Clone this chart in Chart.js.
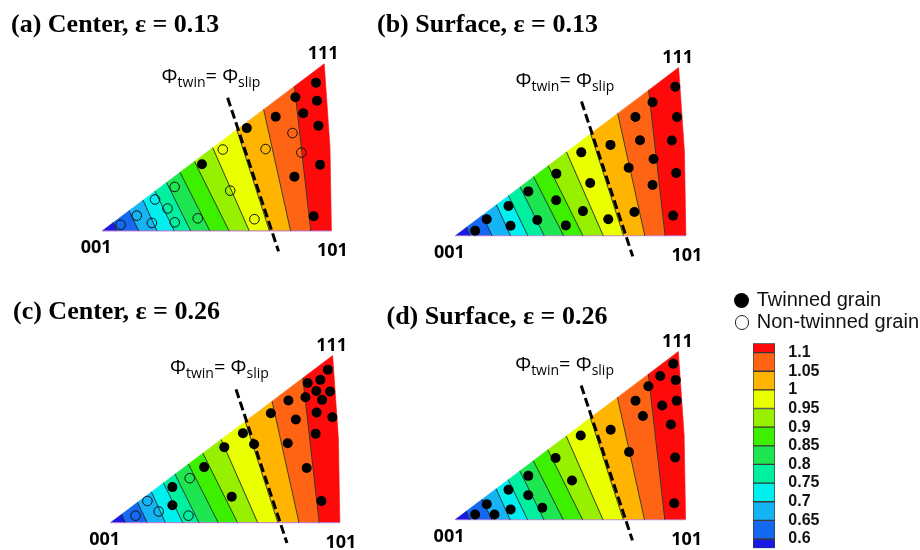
<!DOCTYPE html>
<html lang="en">
<head>
<meta charset="UTF-8">
<title>Twin / slip ratio inverse pole figures</title>
<script src="https://cdn.jsdelivr.net/npm/chart.js"></script>
<style>
  body { margin: 0; width: 920px; height: 550px; background: #fff; position: relative; overflow: hidden; }
  canvas { position: absolute; }
  .title { position: absolute; z-index: 2; font-family: "Liberation Serif", "Times New Roman", serif; font-weight: bold; font-size: 26px; line-height: 26px; white-space: nowrap; color: #000; }
  .key { position: absolute; z-index: 2; font-family: "Liberation Sans", Arial, sans-serif; font-size: 20px; line-height: 20px; white-space: nowrap; color: #111; }
  .dot { position: absolute; z-index: 2; border-radius: 50%; box-sizing: border-box; }
</style>
</head>
<body>
<script>
// triangle corners in projection units (001 at origin, 001-101 edge along x)
const v001 = [0, 0];
const v101 = [238.5, 0];
const v111 = [231, 175.5];
const arcMid = [237, 88];
const cornerLabels = ['001', '101', '111'];

// contour levels of phi_twin / phi_slip and where each iso-line meets
// the 001-111 edge (isoTopX) and the 001-101 edge (isoBottomX)
const levels = [0.6, 0.65, 0.7, 0.75, 0.8, 0.85, 0.9, 0.95, 1, 1.05, 1.1];
const isoTopX = [11.5, 28, 42.5, 55, 67, 81, 96, 115, 140, 168, 200];
const isoBottomX = [15, 38, 57, 75, 92, 112, 132, 153, 174, 196, 217];
const bandColors = ['#1a1ae6', '#1469f0', '#14b4f5', '#00f0f0', '#00f0a0', '#1ee650',
                    '#3cf000', '#96f000', '#eaff00', '#ffb400', '#ff6414', '#ff0a0a'];

// phi_twin = phi_slip boundary
const dashX = [130.5, 183.5];
const dashY = [140, -21.5];

const titles = ['(a) Center, \u03b5 = 0.13', '(b) Surface, \u03b5 = 0.13',
                '(c) Center, \u03b5 = 0.26', '(d) Surface, \u03b5 = 0.26'];

// grain orientations
const twinnedA = [[222.5,155.7],[201,140.5],[223.4,136.7],[180.5,120],[209.2,123.7],[225,110.5],
  [150.5,108],[103.8,70],[226.7,69.6],[200,57],[220,15.4]];
const untwinnedA = [[198,102.8],[207.2,82.3],[170,86],[125.5,85.5],[133.2,42.3],[158.4,12.3],
  [19.2,6.4],[36,16],[51.7,8.3],[55,33],[68,23.5],[75.4,46.2],[75.5,9],[99.4,13.2]];
const twinnedB = [[227.5,155.5],[204,139.3],[229.3,124],[186.3,124],[191,99.6],[224,99.3],
  [160.5,94.8],[130.3,87],[205,80],[179.3,71],[104.5,64.8],[139.5,55],[228.5,65.6],[204,53],
  [75.5,46.3],[104.3,37],[55,31],[185.2,24.7],[158.2,17.3],[132,25.7],[84.8,16.5],[114.3,10.8],
  [32.5,17.3],[57.1,10.5],[20.5,5.2],[225.3,21]];
const untwinnedB = [];
const twinnedC = [[226,160.7],[205,146.7],[218.3,150],[214,138.3],[228.3,137.7],[185,128.3],
  [202.7,131.7],[220,129],[166.7,115],[192.7,108.3],[214.3,115.7],[230.7,110.7],[137.7,94],
  [149.3,82.3],[213.3,93.3],[184.3,83.3],[118.3,79.3],[97.3,58.3],[204,57.3],[64.3,37.3],
  [64.3,18.3],[126,27.3],[219.3,22.7]];
const untwinnedC = [[82.3,46.7],[38.3,22.7],[50,11.7],[26,7.3],[81,7.3]];
const twinnedD = [[225.7,162.7],[212.3,150],[228.3,145.7],[200,139.3],[186.7,124.3],[214.3,119.3],
  [229.3,124.3],[194.3,108.3],[223.3,99.3],[161,94],[130,88],[180,70.7],[227.7,65],[104,64.5],
  [121,41],[75.8,45.8],[55.3,31.3],[75.7,25.5],[90.3,12.5],[32.8,16.3],[57.5,10.8],[20.8,5.5],
  [40.8,5.5],[226.7,17.3]];
const untwinnedD = [];

const legendLabels = ['Twinned grain', 'Non-twinned grain'];

// page layout: where each triangle's 001 corner sits, and its title
const panelOrigins = [[98.3, 235], [452, 239.3], [106.7, 526.7], [451.7, 523.3]];
const titlePos = [[11, 33.3], [377, 33.3], [13, 320], [386.5, 325]];
const panelSeries = [[twinnedA, untwinnedA], [twinnedB, untwinnedB], [twinnedC, untwinnedC], [twinnedD, untwinnedD]];

const edgeSlope = v111[1] / v111[0];
const pt = p => ({ x: p[0], y: p[1] });
const topPt = k => ({ x: isoTopX[k], y: isoTopX[k] * edgeSlope });
const botPt = k => ({ x: isoBottomX[k], y: 0 });

function bandPolygons() {
  const polys = [[pt(v001), topPt(0), botPt(0)]];
  for (let k = 1; k < levels.length; k++) {
    polys.push([botPt(k - 1), topPt(k - 1), topPt(k), botPt(k)]);
  }
  const last = levels.length - 1;
  polys.push([botPt(last), topPt(last), pt(v111), pt(arcMid), pt(v101)]);
  return polys;
}

function panelDatasets(twinned, untwinned) {
  const sets = [];
  sets.push({ type: 'scatter', data: twinned.map(pt), pointRadius: 5, pointBackgroundColor: '#000',
              pointBorderWidth: 0, order: 0 });
  if (untwinned.length) {
    sets.push({ type: 'scatter', data: untwinned.map(pt), pointRadius: 4.8,
                pointBackgroundColor: 'rgba(0,0,0,0)', pointBorderColor: '#111', pointBorderWidth: 1, order: 0 });
  }
  sets.push({ type: 'line', data: [{ x: dashX[0], y: dashY[0] }, { x: dashX[1], y: dashY[1] }],
              borderColor: '#000', borderWidth: 3, borderDash: [9, 4], pointRadius: 0, fill: false, order: 1 });
  levels.forEach((lv, k) => {
    sets.push({ type: 'line', data: [topPt(k), botPt(k)], borderColor: 'rgba(35,35,35,0.85)',
                borderWidth: 1, pointRadius: 0, fill: false, order: 2 });
  });
  sets.push({ type: 'line', data: [pt(v001), pt(v101)], borderColor: 'rgba(185,110,205,0.8)',
              borderWidth: 1.2, pointRadius: 0, fill: false, order: 2 });
  bandPolygons().forEach((poly, i) => {
    sets.push({ type: 'line', data: poly, fill: 'shape', backgroundColor: bandColors[i],
                borderColor: bandColors[i], borderWidth: 0.6, pointRadius: 0, order: 3 });
  });
  return sets;
}

// corner indices and the phi label, anchored to the triangle
const ipfText = {
  id: 'ipfText',
  afterDatasetsDraw(chart) {
    const { ctx, scales: { x, y } } = chart;
    const px = p => [x.getPixelForValue(p[0]), y.getPixelForValue(p[1])];
    ctx.save();
    ctx.fillStyle = '#000';
    ctx.textBaseline = 'alphabetic';
    ctx.textAlign = 'center';
    ctx.font = 'bold 18px "Open Sans"';
    let [cx, cy] = px(v001);
    ctx.fillText(cornerLabels[0], cx - 6, cy + 22.5);
    [cx, cy] = px(v101);
    ctx.fillText(cornerLabels[1], cx + 1, cy + 25);
    [cx, cy] = px(v111);
    ctx.fillText(cornerLabels[2], cx - 1, cy - 5);

    // \u03a6twin= \u03a6slip
    let [lx, ly] = px([dashX[0], dashY[0]]);
    lx -= 66; ly -= 15;
    ctx.textAlign = 'left';
    const parts = [['\u03a6', 20, 0], ['twin', 14, 4], ['= ', 20, 0], ['\u03a6', 20, 0], ['slip', 14, 4]];
    parts.forEach(([s, size, drop]) => {
      ctx.font = size + 'px "Open Sans"';
      ctx.fillText(s, lx, ly + drop);
      lx += ctx.measureText(s).width;
    });
    ctx.restore();
  }
};

function addCanvas(left, top, w, h) {
  const c = document.createElement('canvas');
  c.width = w; c.height = h;
  c.style.left = left + 'px'; c.style.top = top + 'px';
  c.style.width = w + 'px'; c.style.height = h + 'px';
  document.body.appendChild(c);
  return c;
}

function addDiv(cls, text, left, top, extra) {
  const d = document.createElement('div');
  d.className = cls;
  d.textContent = text;
  d.style.left = left + 'px';
  d.style.top = top + 'px';
  Object.assign(d.style, extra || {});
  document.body.appendChild(d);
  return d;
}

panelOrigins.forEach(([x0, y0], i) => {
  const W = 300, H = 240;
  const L = Math.round(x0 - 50), T = Math.round(y0 - 205);
  const canvas = addCanvas(L, T, W, H);
  new Chart(canvas, {
    type: 'scatter',
    data: { datasets: panelDatasets(panelSeries[i][0], panelSeries[i][1]) },
    options: {
      responsive: false,
      animation: false,
      events: [],
      layout: { padding: 0 },
      scales: {
        x: { type: 'linear', display: false, min: L - x0, max: L + W - x0 },
        y: { type: 'linear', display: false, min: y0 - (T + H), max: y0 - T }
      },
      plugins: { legend: { display: false }, tooltip: { enabled: false } }
    },
    plugins: [ipfText]
  });
  addDiv('title', titles[i], titlePos[i][0], titlePos[i][1] - 22);
});

// legend for grain symbols
addDiv('dot', '', 734.2, 292.5, { width: '15px', height: '15px', background: '#000' });
addDiv('dot', '', 734.7, 315.4, { width: '14.6px', height: '14.6px', border: '1.3px solid #222' });
addDiv('key', legendLabels[0], 756.7, 289.1);
addDiv('key', legendLabels[1], 756.7, 311.4);

// colour bar: one floating bar per contour band
const half = 0.025;
const barEdges = bandColors.map((c, i) => i === 0 ? [levels[0] - half, levels[0]]
  : i === levels.length ? [levels[i - 1], levels[i - 1] + half] : [levels[i - 1], levels[i]]);
const cbCanvas = addCanvas(753, 335, 167, 215);
new Chart(cbCanvas, {
  type: 'bar',
  data: {
    labels: [''],
    datasets: barEdges.map((e, i) => ({
      data: [e], backgroundColor: bandColors[i], borderColor: '#3a3a3a', borderWidth: 1,
      borderSkipped: false, grouped: false, barPercentage: 1, categoryPercentage: 1
    }))
  },
  options: {
    responsive: false,
    animation: false,
    events: [],
    layout: { padding: { top: 8.3, bottom: 1.7, left: 0, right: 0 } },
    scales: {
      x: { display: false },
      y: {
        position: 'right', min: levels[0] - half, max: levels[levels.length - 1] + half,
        grid: { display: false, drawTicks: false }, border: { display: false },
        afterBuildTicks: axis => { axis.ticks = levels.map(v => ({ value: v })); },
        afterFit: axis => { axis.width = 145; axis.paddingTop = 0; axis.paddingBottom = 0; },
        ticks: {
          autoSkip: false, padding: 13.3, color: '#111',
          font: { family: '"Liberation Sans", Arial, sans-serif', weight: 'bold', size: 16 },
          callback: v => String(+v.toFixed(2))
        }
      }
    },
    plugins: { legend: { display: false }, tooltip: { enabled: false } }
  }
});
</script>
</body>
</html>
